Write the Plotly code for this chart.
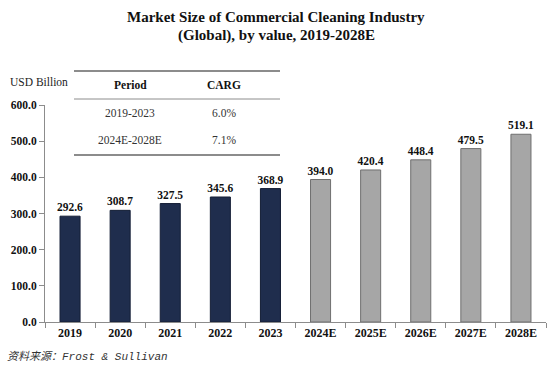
import plotly.graph_objects as go

categories = ["2019", "2020", "2021", "2022", "2023", "2024E", "2025E", "2026E", "2027E", "2028E"]
values = [292.6, 308.7, 327.5, 345.6, 368.9, 394.0, 420.4, 448.4, 479.5, 519.1]
is_forecast = [False] * 5 + [True] * 5
table_header = ["Period", "CARG"]
table_periods = ["2019-2023", "2024E-2028E"]
table_cagr = ["6.0%", "7.1%"]
title_lines = ["Market Size of Commercial Cleaning Industry", "(Global), by value, 2019-2028E"]

W, H = 553, 373
L, R, T, B = 45, 7, 105, 51
SERIF = "Liberation Serif, Times New Roman, serif"

fill = ["#a6a6a6" if f else "#1f2d4d" for f in is_forecast]
edge = ["#6f6f6f" if f else "#141e36" for f in is_forecast]

fig = go.Figure(go.Bar(
    x=categories, y=values, width=0.4,
    marker=dict(color=fill, line=dict(color=edge, width=1)),
    text=[f"<b>{v:.1f}</b>" for v in values], textposition="outside",
    constraintext="none",
    textfont=dict(family=SERIF, size=11.5, color="#111111"),
    cliponaxis=False,
))

def px_x(x):
    return (x - L) / (W - L - R)

def px_y(y):
    return (H - B - y) / (H - T - B)

fig.update_layout(
    width=W, height=H,
    margin=dict(l=L, r=R, t=T, b=B),
    paper_bgcolor="white", plot_bgcolor="white",
    showlegend=False,
    bargap=0.6,
    xaxis=dict(
        type="category", showline=True, linecolor="#8c8c8c", linewidth=1,
        ticks="outside", tickson="boundaries", ticklen=5, tickcolor="#8c8c8c",
        tickfont=dict(family=SERIF, size=12, color="#111111", weight="bold"),
        showgrid=False,
    ),
    yaxis=dict(
        range=[0, 600], dtick=100, tickformat=".1f",
        showline=True, linecolor="#8c8c8c", linewidth=1,
        ticks="outside", ticklen=5, tickcolor="#8c8c8c",
        tickfont=dict(family=SERIF, size=11.5, color="#111111", weight="bold"),
        showgrid=False, zeroline=False,
    ),
)

annotations = [
    dict(text=f"<b>{t}</b>", x=px_x(276), y=px_y(ty), xanchor="center", yanchor="middle",
         font=dict(family=SERIF, size=15, color="#111111"))
    for t, ty in zip(title_lines, [17, 35])
]
annotations += [
    dict(text="USD Billion", x=px_x(8), y=px_y(82), xanchor="left", yanchor="middle",
         font=dict(family=SERIF, size=11.5, color="#222222")),
    dict(text="<i>资料来源：Frost &amp; Sullivan</i>", x=px_x(5), y=px_y(356), xanchor="left", yanchor="middle",
         font=dict(family="Liberation Mono, Noto Sans CJK SC, monospace", size=11, color="#333333")),
]
col_x = [130, 224]
annotations += [
    dict(text=f"<b>{h}</b>", x=px_x(cx), y=px_y(85), xanchor="center", yanchor="middle",
         font=dict(family=SERIF, size=11.5, color="#111111"))
    for h, cx in zip(table_header, col_x)
]
row_y = [113, 140]
for p, c, ry in zip(table_periods, table_cagr, row_y):
    annotations.append(dict(text=p, x=px_x(col_x[0]), y=px_y(ry), xanchor="center", yanchor="middle",
                            font=dict(family=SERIF, size=11.5, color="#333333")))
    annotations.append(dict(text=c, x=px_x(col_x[1]), y=px_y(ry), xanchor="center", yanchor="middle",
                            font=dict(family=SERIF, size=11.5, color="#333333")))
for a in annotations:
    a.update(xref="paper", yref="paper", showarrow=False)
fig.update_layout(annotations=annotations)

shapes = []
for ly, lw in [(71, 2), (99, 1), (155, 2)]:
    shapes.append(dict(type="line", xref="paper", yref="paper",
                       x0=px_x(74), x1=px_x(280), y0=px_y(ly), y1=px_y(ly),
                       line=dict(color="#8c8c8c", width=lw)))
fig.update_layout(shapes=shapes)

fig.write_html("out.html", config={"displayModeBar": False},
               post_script="document.body.style.margin='0';")
